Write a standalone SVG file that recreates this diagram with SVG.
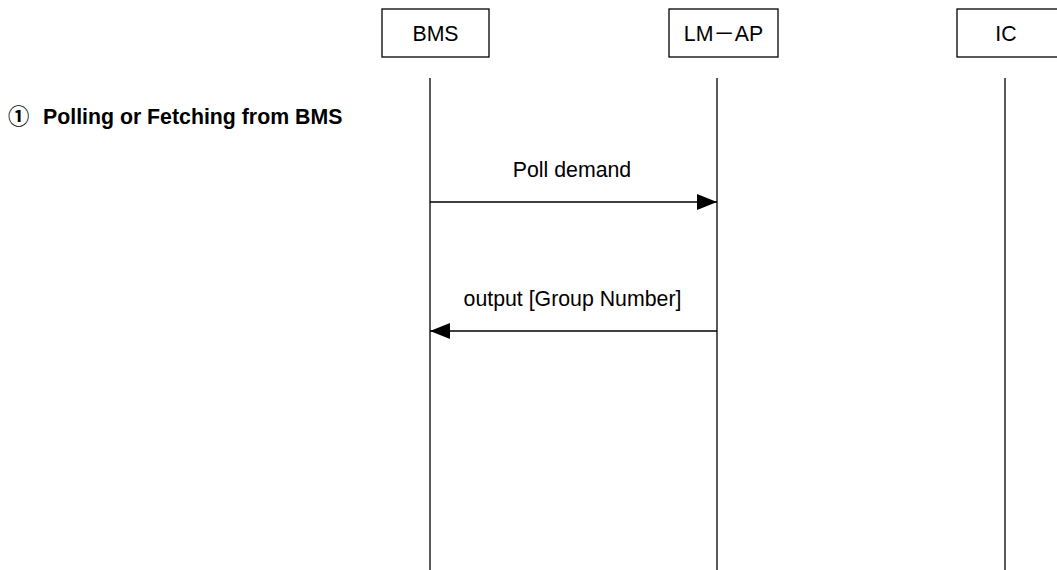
<svg xmlns="http://www.w3.org/2000/svg" width="1057" height="570" viewBox="0 0 1057 570">
<style>
.box{fill:#fff;stroke:#000;stroke-width:1.3}
.life{stroke:#000;stroke-width:1.3;fill:none}
.msg{stroke:#000;stroke-width:1.6;fill:none}
text{font-family:"Liberation Sans",Arial,"Noto Sans CJK JP",sans-serif;font-size:21.3px;fill:#000}
.lbl{text-anchor:middle}
.title{font-weight:bold}
.cjk{font-family:"Noto Sans CJK JP",sans-serif;font-weight:normal}
.cjkb{font-family:"Noto Sans CJK JP",sans-serif;font-weight:bold}
</style>
<defs>
<marker id="ah" viewBox="0 0 20 16" refX="20" refY="8" markerWidth="20" markerHeight="16" markerUnits="userSpaceOnUse" orient="auto">
<path d="M0,0 L20,8 L0,16 Z" fill="#000"/>
</marker>
</defs>
<text class="title" x="8" y="124"><tspan class="cjkb">①</tspan><tspan x="43">Polling or Fetching from BMS</tspan></text>
<g id="node-bms">
<rect class="box" x="382" y="9" width="107" height="48"/>
<text class="lbl" x="435.5" y="41">BMS</text>
</g>
<g id="node-lmap">
<rect class="box" x="669" y="9" width="109" height="48"/>
<text class="lbl" x="723.5" y="41">LM<tspan class="cjk">－</tspan>AP</text>
</g>
<g id="node-ic">
<rect class="box" x="957" y="9" width="110" height="48"/>
<text class="lbl" x="1006" y="41">IC</text>
</g>
<g id="connectors">
<line class="life" x1="430" y1="78" x2="430" y2="570"/>
<line class="life" x1="717" y1="78" x2="717" y2="570"/>
<line class="life" x1="1005" y1="78" x2="1005" y2="570"/>
<line class="msg" x1="430" y1="202" x2="717" y2="202" marker-end="url(#ah)"/>
<text class="lbl" x="572" y="177">Poll demand</text>
<line class="msg" x1="717" y1="331" x2="430" y2="331" marker-end="url(#ah)"/>
<text class="lbl" x="572.5" y="306">output [Group Number]</text>
</g>
</svg>
